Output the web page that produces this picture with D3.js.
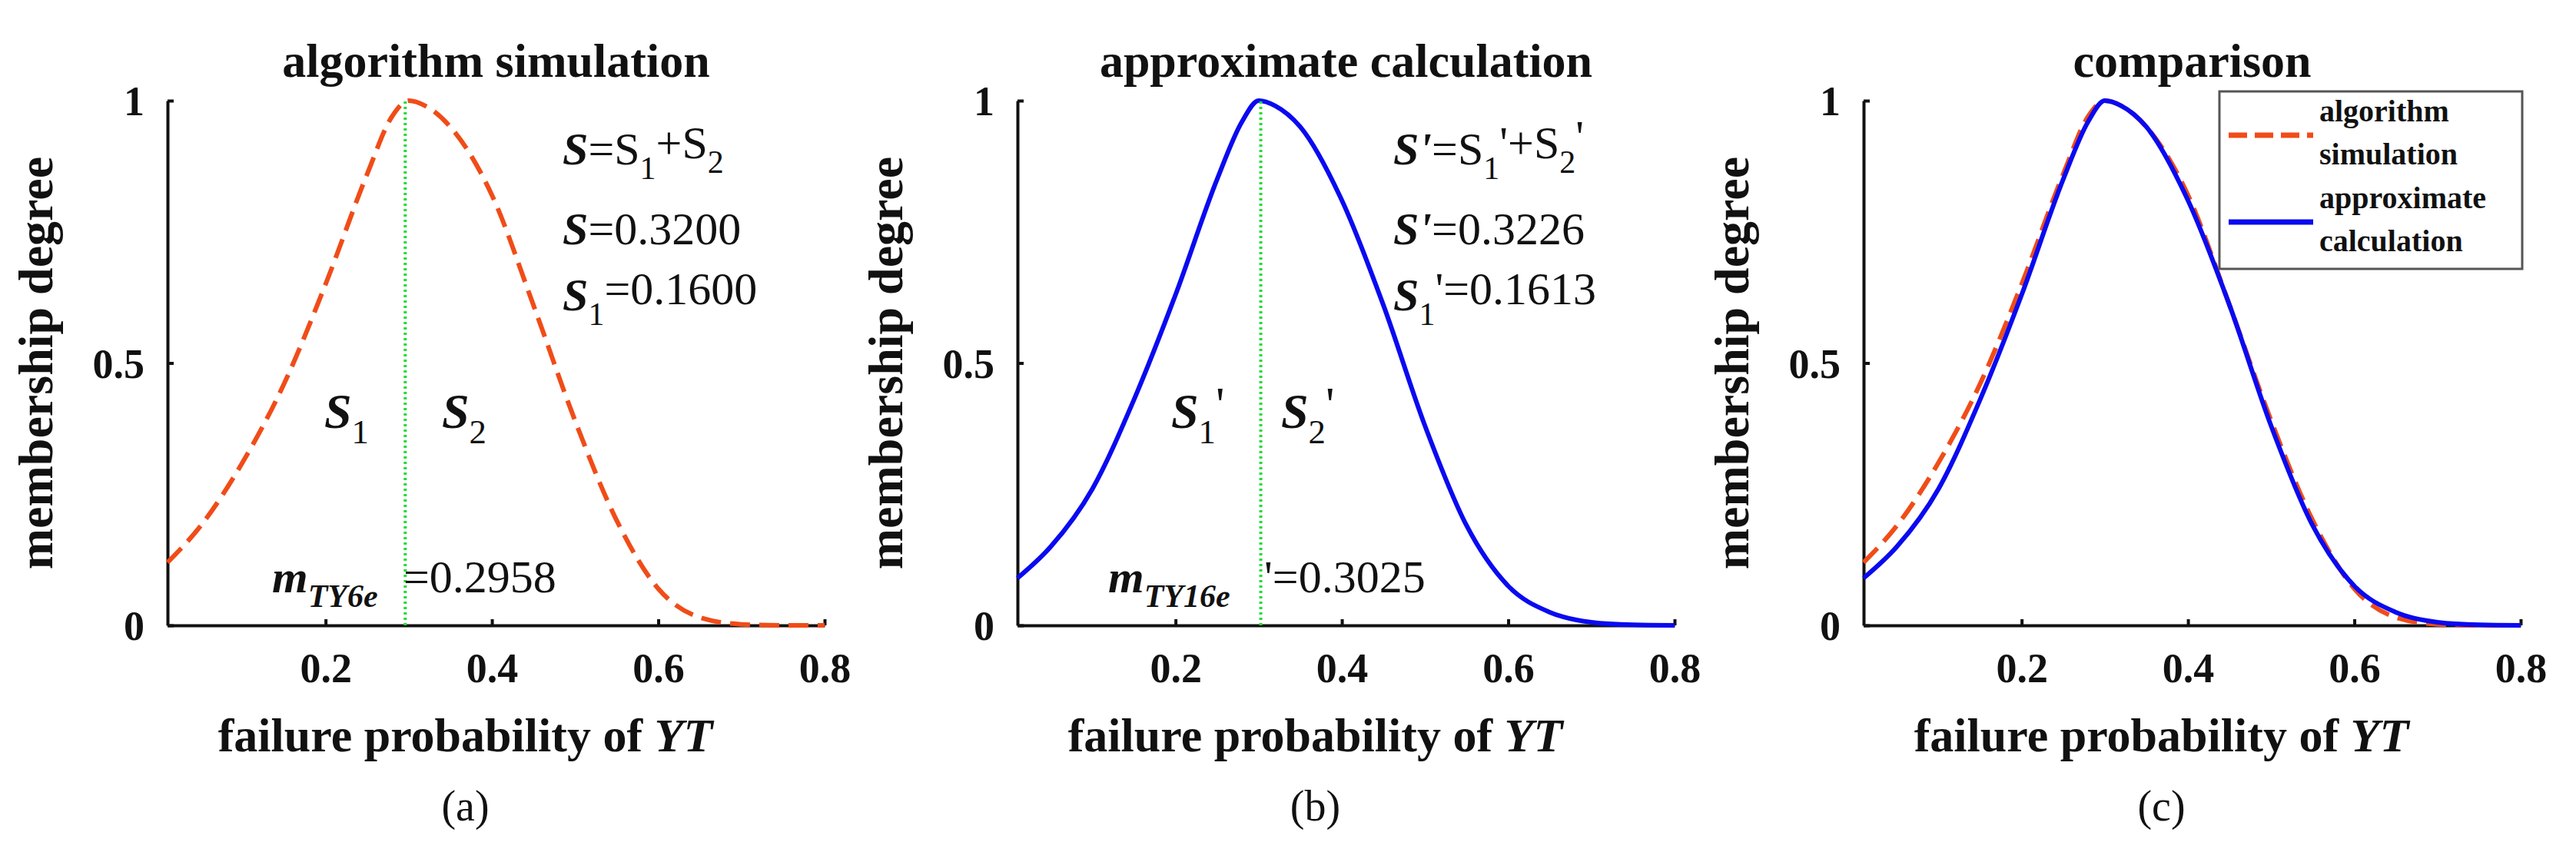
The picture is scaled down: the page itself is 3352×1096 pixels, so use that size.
<!DOCTYPE html>
<html>
<head>
<meta charset="utf-8">
<script src="https://cdn.jsdelivr.net/npm/d3@7"></script>
<style>
  body { margin: 0; background: #fff; }
  text { font-family: "Liberation Serif", "Times New Roman", serif; fill: #111; }
</style>
</head>
<body>
<svg id="chart" width="3352" height="1096"></svg>
<script>
// failure probability samples
const xVals   = [0.01, 0.05, 0.10, 0.15, 0.20, 0.25, 0.28, 0.30, 0.32, 0.35, 0.40, 0.45, 0.50, 0.55, 0.60, 0.65, 0.70, 0.75, 0.80];
// algorithm simulation (red dashed)
const simVals = [0.12, 0.19, 0.31, 0.46, 0.65, 0.86, 0.97, 1.00, 0.99, 0.95, 0.82, 0.61, 0.39, 0.20, 0.07, 0.015, 0.002, 0.0, 0.0];
// approximate calculation (blue solid)
const appVals = [0.09, 0.15, 0.26, 0.43, 0.63, 0.85, 0.96, 1.00, 0.99, 0.95, 0.81, 0.61, 0.38, 0.19, 0.075, 0.025, 0.006, 0.001, 0.0];
const xTicks = [0.2, 0.4, 0.6, 0.8];
const yTicks = [0, 0.5, 1];
const titles = ["algorithm simulation", "approximate calculation", "comparison"];
const captions = ["(a)", "(b)", "(c)"];
const medians = [0.2958, 0.3025];

const RED = "#f04c18", BLUE = "#0a0af0", GREEN = "#22dd33";
const panelLeft = [218, 1324, 2425];
const panelWidth = 855;
const plotTop = 131, plotBottom = 814;

const svg = d3.select("#chart");

function drawPanel(i) {
  const g = svg.append("g").attr("transform", `translate(${panelLeft[i]},0)`);
  const x = d3.scaleLinear().domain([0.01, 0.8]).range([0, panelWidth]);
  const y = d3.scaleLinear().domain([0, 1]).range([plotBottom, plotTop]);

  const line = d3.line().x((d, k) => x(xVals[k])).y(d => y(d)).curve(d3.curveMonotoneX);

  // axes
  const xa = g.append("g").attr("transform", `translate(0,${plotBottom})`)
    .call(d3.axisBottom(x).tickValues(xTicks).tickSizeInner(-8).tickSizeOuter(0).tickPadding(36).tickFormat(d3.format(".1f")));
  const ya = g.append("g")
    .call(d3.axisLeft(y).tickValues(yTicks).tickSizeInner(-8).tickSizeOuter(0).tickPadding(30).tickFormat(d => d === 0.5 ? "0.5" : d));
  [xa, ya].forEach(a => {
    a.select(".domain").attr("stroke", "#111").attr("stroke-width", 4);
    a.selectAll(".tick line").attr("stroke", "#111").attr("stroke-width", 4);
    a.selectAll(".tick text").attr("font-size", 54).attr("font-weight", "bold")
      .style("font-family", "Liberation Serif");
  });
  ya.selectAll(".tick text").attr("dy", "0.35em");

  // curves
  if (i === 0 || i === 2) {
    g.append("path").datum(simVals).attr("d", line).attr("fill", "none")
      .attr("stroke", RED).attr("stroke-width", 6).attr("stroke-dasharray", "26,12");
  }
  if (i === 1 || i === 2) {
    g.append("path").datum(appVals).attr("d", line).attr("fill", "none")
      .attr("stroke", BLUE).attr("stroke-width", 6);
  }

  // titles & labels
  g.append("text").attr("x", panelWidth / 2).attr("y", 100).attr("text-anchor", "middle")
    .attr("font-size", 62).attr("font-weight", "bold").text(titles[i]);
  g.append("text").attr("transform", `translate(-150,${(plotTop + plotBottom) / 2}) rotate(-90)`)
    .attr("text-anchor", "middle").attr("font-size", 64).attr("font-weight", "bold").text("membership degree");
  const xl = g.append("text").attr("x", panelWidth / 2 - 40).attr("y", 978).attr("text-anchor", "middle")
    .attr("font-size", 62).attr("font-weight", "bold");
  xl.append("tspan").text("failure probability of ");
  xl.append("tspan").attr("font-style", "italic").text("YT");
  g.append("text").attr("x", panelWidth / 2 - 40).attr("y", 1068).attr("text-anchor", "middle")
    .attr("font-size", 56).text(captions[i]);

  return { g, x, y };
}

function sub(t, parts) {
  parts.forEach(p => {
    const s = t.append("tspan").text(p.t);
    if (p.b) s.attr("font-weight", "bold");
    if (p.i) s.attr("font-style", "italic");
    if (p.sub) s.attr("font-size", "70%").attr("dy", "0.45em");
    if (p.up) s.attr("dy", "-0.45em");
  });
}

const panels = [0, 1, 2].map(drawPanel);

// median lines and annotations for (a) and (b)
[0, 1].forEach(i => {
  const { g, x, y } = panels[i];
  g.append("line").attr("x1", x(medians[i])).attr("x2", x(medians[i]))
    .attr("y1", y(0)).attr("y2", y(1)).attr("stroke", GREEN)
    .attr("stroke-width", 4).attr("stroke-dasharray", "3,4");
  const p = i === 0 ? "" : "'";
  const tx = i === 0 ? 514 : 489;
  const fs = 60;
  sub(g.append("text").attr("x", tx).attr("y", 214).attr("font-size", fs),
    [{ t: "S" + p, b: 1, i: 1 }, { t: "=S" }, { t: "1", sub: 1 }, { t: p + "+S", up: 1 }, { t: "2", sub: 1 }, { t: p, up: 1 }]);
  sub(g.append("text").attr("x", tx).attr("y", 318).attr("font-size", fs),
    [{ t: "S" + p, b: 1, i: 1 }, { t: i === 0 ? "=0.3200" : "=0.3226" }]);
  sub(g.append("text").attr("x", tx).attr("y", 404).attr("font-size", fs),
    [{ t: "S", b: 1, i: 1 }, { t: "1", sub: 1 }, { t: p + (i === 0 ? "=0.1600" : "=0.1613"), up: 1 }]);

  const s1x = i === 0 ? 204 : 200, s2x = i === 0 ? 357 : 343;
  sub(g.append("text").attr("x", s1x).attr("y", 557).attr("font-size", 64),
    [{ t: "S", b: 1, i: 1 }, { t: "1", sub: 1 }, { t: p, up: 1 }]);
  sub(g.append("text").attr("x", s2x).attr("y", 557).attr("font-size", 64),
    [{ t: "S", b: 1, i: 1 }, { t: "2", sub: 1 }, { t: p, up: 1 }]);

  const mx = i === 0 ? 136 : 118;
  sub(g.append("text").attr("x", mx).attr("y", 771).attr("font-size", 60),
    [{ t: "m", b: 1, i: 1 }, { t: i === 0 ? "TY6e" : "TY16e", b: 1, i: 1, sub: 1 }]);
  g.append("text").attr("x", i === 0 ? 307 : 321).attr("y", 771).attr("font-size", 60)
    .text(i === 0 ? "=0.2958" : "'=0.3025");
});

// legend in (c)
const lg = panels[2].g.append("g").attr("transform", "translate(463,119)");
lg.append("rect").attr("width", 394).attr("height", 231).attr("fill", "#fff")
  .attr("stroke", "#555").attr("stroke-width", 3);
lg.append("line").attr("x1", 12).attr("x2", 122).attr("y1", 57).attr("y2", 57)
  .attr("stroke", RED).attr("stroke-width", 7).attr("stroke-dasharray", "24,10");
lg.append("line").attr("x1", 12).attr("x2", 122).attr("y1", 170).attr("y2", 170)
  .attr("stroke", BLUE).attr("stroke-width", 7);
[["algorithm", 47], ["simulation", 103], ["approximate", 160], ["calculation", 216]].forEach(([t, yy]) => {
  lg.append("text").attr("x", 130).attr("y", yy - 8).attr("font-size", 40).attr("font-weight", "bold").text(t);
});
</script>
</body>
</html>
